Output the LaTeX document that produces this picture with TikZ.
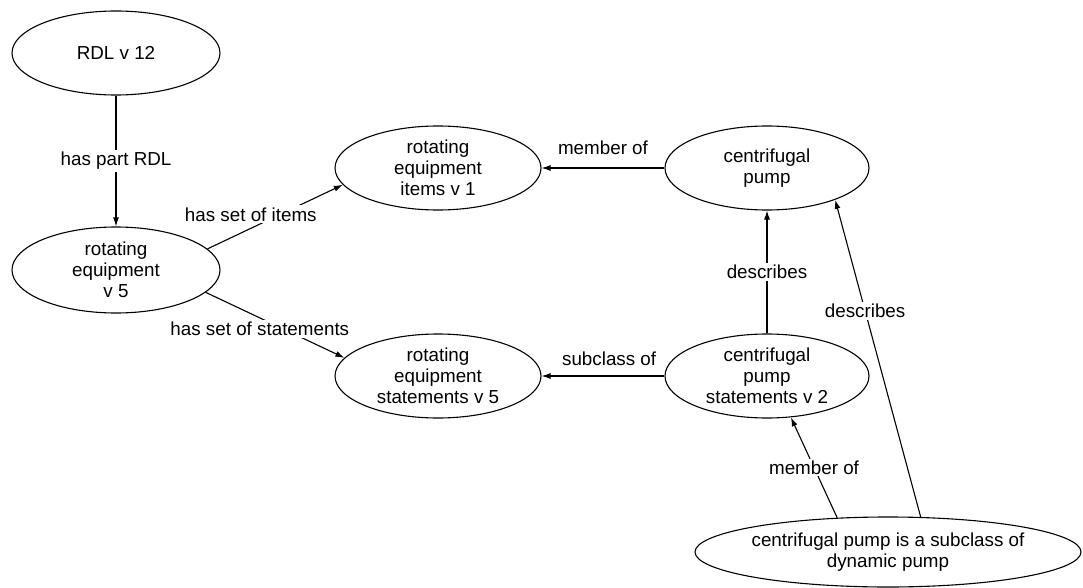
\documentclass[tikz,border=0pt]{standalone}
\usepackage{fontspec}
\setmainfont{Liberation Sans}
\usetikzlibrary{shapes.geometric,arrows.meta}
\begin{document}
\begin{tikzpicture}[x=1pt,y=-1pt,
  ell/.style={draw,ellipse,line width=1.1pt,inner sep=0pt,align=center,font=\fontsize{18.8}{21}\selectfont},
  arr/.style={line width=1.1pt,-{Latex[length=9pt,width=6pt]}},
  lbl/.style={fill=white,inner sep=2pt,font=\fontsize{18.8}{21}\selectfont}]
\useasboundingbox (0,0) rectangle (1083,588);
\node[ell,minimum width=208pt,minimum height=84pt] (rdl) at (116,53) {RDL v 12};
\node[ell,minimum width=208pt,minimum height=86pt] (rot) at (116,270) {rotating\\equipment\\v 5};
\node[ell,minimum width=206pt,minimum height=84pt] (items) at (438,168) {rotating\\equipment\\items v 1};
\node[ell,minimum width=206pt,minimum height=84pt] (stmts) at (438,376) {rotating\\equipment\\statements v 5};
\node[ell,minimum width=204pt,minimum height=84pt] (cp) at (767,168) {centrifugal\\pump};
\node[ell,minimum width=204pt,minimum height=84pt] (cps) at (767,376) {centrifugal\\pump\\statements v 2};
\node[ell,minimum width=386pt,minimum height=70pt] (big) at (888,552) {centrifugal pump is a subclass of\\dynamic pump};

\draw[arr] (rdl) -- (rot) node[lbl,pos=0.5] (l1) {has part RDL};
\draw[arr] (rot.13) -- (items.190) node[lbl,pos=0.32,yshift=14pt] (l2) {has set of items};
\draw[arr] (rot.346) -- (stmts.169) node[lbl,pos=0.39,yshift=-11pt] (l3) {has set of statements};
\draw[arr] (cp) -- (items) node[lbl,pos=0.5,yshift=20pt] (l4) {member of};
\draw[arr] (cps) -- (stmts) node[lbl,pos=0.45,yshift=17pt] (l5) {subclass of};
\draw[arr] (cps) -- (cp) node[lbl,pos=0.5] (l6) {describes};
\draw[arr] (big.47.6) -- (cp.335.3) node[lbl,pos=0.65] (l7) {describes};
\draw[arr] (big.146.6) -- (cps.300.6) node[lbl,pos=0.5] (l8) {member of};
\end{tikzpicture}
\end{document}
